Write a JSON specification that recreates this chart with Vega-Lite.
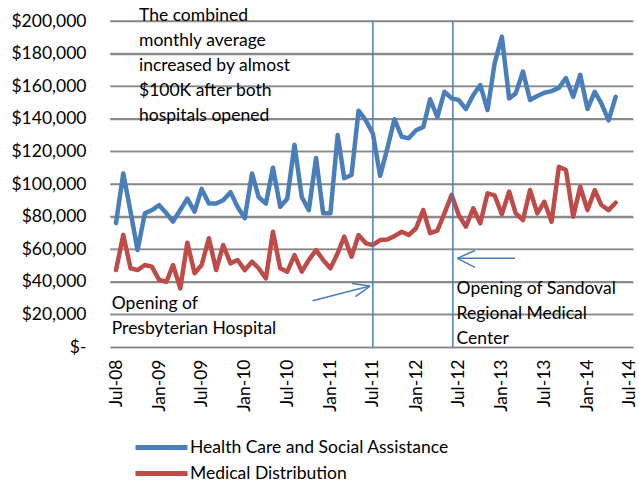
{
  "$schema": "https://vega.github.io/schema/vega-lite/v6.json",
  "width": 523,
  "height": 326,
  "autosize": {"type": "none"},
  "padding": {"left": 110, "top": 21, "right": 6, "bottom": 137},
  "background": "white",
  "config": {
    "view": {"stroke": null},
    "font": "Lato"
  },
  "datasets": {
    "monthly": [
      {"d":"2008-07-01","Health Care and Social Assistance":76000,"Medical Distribution":47200},
      {"d":"2008-08-01","Health Care and Social Assistance":106500,"Medical Distribution":68700},
      {"d":"2008-09-01","Health Care and Social Assistance":83000,"Medical Distribution":48300},
      {"d":"2008-10-01","Health Care and Social Assistance":59500,"Medical Distribution":47200},
      {"d":"2008-11-01","Health Care and Social Assistance":82000,"Medical Distribution":50300},
      {"d":"2008-12-01","Health Care and Social Assistance":84000,"Medical Distribution":49300},
      {"d":"2009-01-01","Health Care and Social Assistance":87000,"Medical Distribution":41100},
      {"d":"2009-02-01","Health Care and Social Assistance":82000,"Medical Distribution":40000},
      {"d":"2009-03-01","Health Care and Social Assistance":77000,"Medical Distribution":50300},
      {"d":"2009-04-01","Health Care and Social Assistance":84000,"Medical Distribution":36000},
      {"d":"2009-05-01","Health Care and Social Assistance":91000,"Medical Distribution":64000},
      {"d":"2009-06-01","Health Care and Social Assistance":83000,"Medical Distribution":45200},
      {"d":"2009-07-01","Health Care and Social Assistance":97000,"Medical Distribution":50300},
      {"d":"2009-08-01","Health Care and Social Assistance":88000,"Medical Distribution":66700},
      {"d":"2009-09-01","Health Care and Social Assistance":88000,"Medical Distribution":47200},
      {"d":"2009-10-01","Health Care and Social Assistance":90000,"Medical Distribution":62600},
      {"d":"2009-11-01","Health Care and Social Assistance":95000,"Medical Distribution":51300},
      {"d":"2009-12-01","Health Care and Social Assistance":86000,"Medical Distribution":53400},
      {"d":"2010-01-01","Health Care and Social Assistance":79000,"Medical Distribution":47200},
      {"d":"2010-02-01","Health Care and Social Assistance":106500,"Medical Distribution":52300},
      {"d":"2010-03-01","Health Care and Social Assistance":92000,"Medical Distribution":48300},
      {"d":"2010-04-01","Health Care and Social Assistance":88000,"Medical Distribution":42100},
      {"d":"2010-05-01","Health Care and Social Assistance":110000,"Medical Distribution":70700},
      {"d":"2010-06-01","Health Care and Social Assistance":86000,"Medical Distribution":48300},
      {"d":"2010-07-01","Health Care and Social Assistance":91000,"Medical Distribution":46200},
      {"d":"2010-08-01","Health Care and Social Assistance":124000,"Medical Distribution":56400},
      {"d":"2010-09-01","Health Care and Social Assistance":92000,"Medical Distribution":46200},
      {"d":"2010-10-01","Health Care and Social Assistance":84000,"Medical Distribution":53400},
      {"d":"2010-11-01","Health Care and Social Assistance":116000,"Medical Distribution":59500},
      {"d":"2010-12-01","Health Care and Social Assistance":82000,"Medical Distribution":53400},
      {"d":"2011-01-01","Health Care and Social Assistance":82000,"Medical Distribution":48300},
      {"d":"2011-02-01","Health Care and Social Assistance":130000,"Medical Distribution":57500},
      {"d":"2011-03-01","Health Care and Social Assistance":103500,"Medical Distribution":67700},
      {"d":"2011-04-01","Health Care and Social Assistance":105500,"Medical Distribution":55400},
      {"d":"2011-05-01","Health Care and Social Assistance":145000,"Medical Distribution":68700},
      {"d":"2011-06-01","Health Care and Social Assistance":139000,"Medical Distribution":63600},
      {"d":"2011-07-01","Health Care and Social Assistance":131000,"Medical Distribution":62600},
      {"d":"2011-08-01","Health Care and Social Assistance":105000,"Medical Distribution":65600},
      {"d":"2011-09-01","Health Care and Social Assistance":122000,"Medical Distribution":66000},
      {"d":"2011-10-01","Health Care and Social Assistance":139700,"Medical Distribution":68000},
      {"d":"2011-11-01","Health Care and Social Assistance":129000,"Medical Distribution":70700},
      {"d":"2011-12-01","Health Care and Social Assistance":128000,"Medical Distribution":68700},
      {"d":"2012-01-01","Health Care and Social Assistance":133000,"Medical Distribution":72800},
      {"d":"2012-02-01","Health Care and Social Assistance":135000,"Medical Distribution":84000},
      {"d":"2012-03-01","Health Care and Social Assistance":152000,"Medical Distribution":69800},
      {"d":"2012-04-01","Health Care and Social Assistance":141000,"Medical Distribution":71400},
      {"d":"2012-05-01","Health Care and Social Assistance":156600,"Medical Distribution":82000},
      {"d":"2012-06-01","Health Care and Social Assistance":152500,"Medical Distribution":93300},
      {"d":"2012-07-01","Health Care and Social Assistance":151500,"Medical Distribution":81000},
      {"d":"2012-08-01","Health Care and Social Assistance":146000,"Medical Distribution":73800},
      {"d":"2012-09-01","Health Care and Social Assistance":154600,"Medical Distribution":85000},
      {"d":"2012-10-01","Health Care and Social Assistance":160700,"Medical Distribution":75900},
      {"d":"2012-11-01","Health Care and Social Assistance":145400,"Medical Distribution":94300},
      {"d":"2012-12-01","Health Care and Social Assistance":174000,"Medical Distribution":93000},
      {"d":"2013-01-01","Health Care and Social Assistance":190400,"Medical Distribution":81500},
      {"d":"2013-02-01","Health Care and Social Assistance":152500,"Medical Distribution":95300},
      {"d":"2013-03-01","Health Care and Social Assistance":155600,"Medical Distribution":82000},
      {"d":"2013-04-01","Health Care and Social Assistance":169000,"Medical Distribution":77900},
      {"d":"2013-05-01","Health Care and Social Assistance":151500,"Medical Distribution":96300},
      {"d":"2013-06-01","Health Care and Social Assistance":154000,"Medical Distribution":82000},
      {"d":"2013-07-01","Health Care and Social Assistance":156000,"Medical Distribution":89100},
      {"d":"2013-08-01","Health Care and Social Assistance":157000,"Medical Distribution":76900},
      {"d":"2013-09-01","Health Care and Social Assistance":159000,"Medical Distribution":110600},
      {"d":"2013-10-01","Health Care and Social Assistance":165000,"Medical Distribution":108600},
      {"d":"2013-11-01","Health Care and Social Assistance":153500,"Medical Distribution":79900},
      {"d":"2013-12-01","Health Care and Social Assistance":167000,"Medical Distribution":98300},
      {"d":"2014-01-01","Health Care and Social Assistance":146000,"Medical Distribution":84000},
      {"d":"2014-02-01","Health Care and Social Assistance":156600,"Medical Distribution":96300},
      {"d":"2014-03-01","Health Care and Social Assistance":149500,"Medical Distribution":87100},
      {"d":"2014-04-01","Health Care and Social Assistance":139000,"Medical Distribution":84000},
      {"d":"2014-05-01","Health Care and Social Assistance":153500,"Medical Distribution":88500}
    ],
    "gridlines": [
      {"d":"2008-06-06","d2":"2014-07-14","v":20000,"v2":20000},
      {"d":"2008-06-06","d2":"2014-07-14","v":40000,"v2":40000},
      {"d":"2008-06-06","d2":"2014-07-14","v":60000,"v2":60000},
      {"d":"2008-06-06","d2":"2014-07-14","v":80000,"v2":80000},
      {"d":"2008-06-06","d2":"2014-07-14","v":100000,"v2":100000},
      {"d":"2008-06-06","d2":"2014-07-14","v":120000,"v2":120000},
      {"d":"2008-06-06","d2":"2014-07-14","v":140000,"v2":140000},
      {"d":"2008-06-06","d2":"2014-07-14","v":160000,"v2":160000},
      {"d":"2008-06-06","d2":"2014-07-14","v":180000,"v2":180000},
      {"d":"2008-06-06","d2":"2014-07-14","v":200000,"v2":200000}
    ],
    "openings": [
      {"d":"2011-07-01","v":0,"v2":200000},
      {"d":"2012-06-06","v":0,"v2":200000}
    ],
    "arrows": [
      {"d":"2010-10-17","v":28400,"d2":"2011-06-19","v2":37400},
      {"d":"2011-04-03","v":38900,"d2":"2011-06-19","v2":37400},
      {"d":"2011-04-18","v":30900,"d2":"2011-06-19","v2":37400},
      {"d":"2013-02-26","v":54400,"d2":"2012-06-25","v2":54400},
      {"d":"2012-09-08","v":59200,"d2":"2012-06-25","v2":54400},
      {"d":"2012-09-08","v":48800,"d2":"2012-06-25","v2":54400}
    ],
    "notes": [
      {"d":"2008-10-07","v":200300,"label":"The combined\nmonthly average\nincreased by almost\n$100K after both\nhospitals opened"},
      {"d":"2008-06-13","v":23100,"label":"Opening of\nPresbyterian Hospital"},
      {"d":"2012-06-22","v":32500,"label":"Opening of Sandoval\nRegional Medical\nCenter"}
    ]
  },
  "encoding": {
    "x": {
      "field": "d", "type": "temporal", "title": null,
      "scale": {"type": "utc", "domain": [{"year": 2008, "month": "jun", "date": 5, "hours": 10, "utc": true}, {"year": 2014, "month": "jul", "date": 14, "utc": true}]},
      "axis": {
        "tickCount": {"interval": "month", "step": 6}, "format": "%b-%y",
        "grid": false, "ticks": false, "labelAngle": -90, "labelPadding": 12,
        "domainColor": "#868686", "domainWidth": 1.5, "labelOverlap": false, "labelFlush": false,
        "labelFont": "Lato", "labelFontSize": 17.5, "labelColor": "#000"
      }
    },
    "y": {
      "field": "v", "type": "quantitative", "title": null,
      "scale": {"domain": [0, 200000], "nice": false},
      "axis": {
        "values": [0, 20000, 40000, 60000, 80000, 100000, 120000, 140000, 160000, 180000, 200000],
        "labelExpr": "datum.value == 0 ? '$-' : '$' + format(datum.value, ',')",
        "domain": false, "ticks": false, "grid": true, "gridColor": "#868686", "gridOpacity": 1, "gridWidth": 1.5,
        "labelOverlap": false, "labelPadding": 24,
        "labelFont": "Lato", "labelFontSize": 17.5, "labelColor": "#000"
      }
    }
  },
  "layer": [
    {
      "data": {"name": "gridlines"},
      "mark": {"type": "rule", "color": "#8a8a8a", "strokeWidth": 1.5},
      "encoding": {
        "x2": {"field": "d2"},
        "y2": {"field": "v2"}
      }
    },
    {
      "data": {"name": "monthly"},
      "transform": [
        {"fold": ["Health Care and Social Assistance", "Medical Distribution"], "as": ["series", "v"]}
      ],
      "mark": {"type": "line", "strokeWidth": 4.5, "strokeJoin": "round", "strokeCap": "round"},
      "encoding": {
        "color": {
          "field": "series", "type": "nominal",
          "scale": {"domain": ["Health Care and Social Assistance", "Medical Distribution"], "range": ["#4A7EBB", "#BE4B48"]},
          "legend": {
            "title": null, "orient": "none", "legendX": 65, "legendY": 414,
            "symbolType": "M-5.2,0H0", "symbolSize": 400, "symbolStrokeWidth": 5,
            "rowPadding": 3, "labelLimit": 0,
            "labelFont": "Lato", "labelFontSize": 17.5, "labelColor": "#000", "labelOffset": -10
          }
        }
      }
    },
    {
      "data": {"name": "openings"},
      "mark": {"type": "rule", "color": "#4A7EBB", "strokeWidth": 1.5},
      "encoding": {
        "y2": {"field": "v2"}
      }
    },
    {
      "data": {"name": "arrows"},
      "mark": {"type": "rule", "color": "#4A7EBB", "strokeWidth": 1.5},
      "encoding": {
        "x2": {"field": "d2"},
        "y2": {"field": "v2"}
      }
    },
    {
      "data": {"name": "notes"},
      "mark": {"type": "text", "align": "left", "baseline": "alphabetic", "lineBreak": "\n", "lineHeight": 25, "font": "Lato", "fontSize": 17.5, "color": "#000"},
      "encoding": {
        "text": {"field": "label"}
      }
    }
  ]
}
